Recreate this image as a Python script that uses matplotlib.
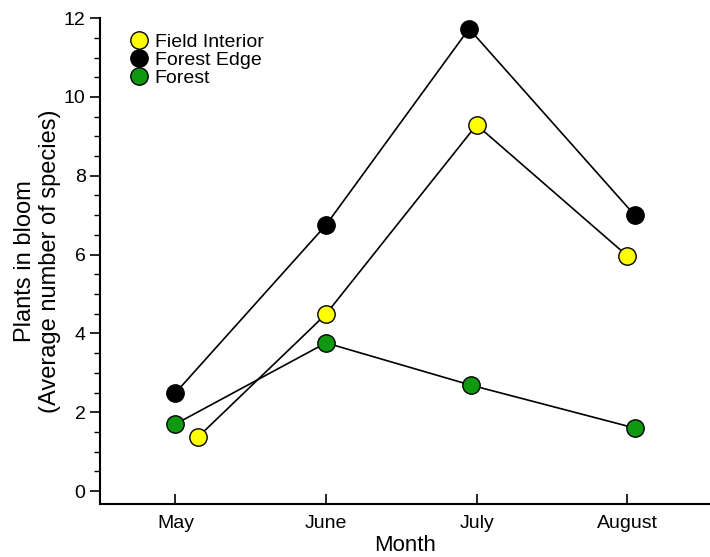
import numpy as np
import matplotlib.pyplot as plt
from matplotlib.lines import Line2D
from matplotlib.ticker import MultipleLocator

plt.rcParams['font.family'] = ['Liberation Sans', 'DejaVu Sans']

months = ['May', 'June', 'July', 'August']

# valores
field_interior = [1.37, 4.49, 9.29, 5.97]
forest_edge = [2.49, 6.75, 11.73, 7.0]
forest = [1.70, 3.76, 2.69, 1.60]

# pequeno deslocamento horizontal de cada ponto
field_dx = [0.15, 0.0, 0.0, 0.0]
edge_dx = [0.0, 0.0, -0.05, 0.05]
forest_dx = [0.0, 0.0, -0.04, 0.05]

fig = plt.figure(figsize=(7.1, 5.57), dpi=100)
ax = fig.add_axes([0.141, 0.095, 0.859, 0.8725])

x = np.arange(len(months))
series = [
    (field_interior, field_dx, '#ffff00', 'Field Interior'),
    (forest_edge, edge_dx, '#000000', 'Forest Edge'),
    (forest, forest_dx, '#109910', 'Forest'),
]

handles = []
for vals, dx, cor, nome in series:
    xs = x + np.array(dx)
    ax.plot(xs, vals, color='black', lw=1.2, zorder=2)
    ax.plot(xs, vals, linestyle='none', marker='o', ms=12.5,
            markerfacecolor=cor, markeredgecolor='black', mew=1.0, zorder=3)
    handles.append(Line2D([], [], linestyle='none', marker='o', ms=12.5,
                          markerfacecolor=cor, markeredgecolor='black', mew=1.0, label=nome))

ax.set_xlim(-0.5, 3.55)
ax.set_ylim(-0.33, 12)
ax.set_xticks(x)
ax.set_xticklabels(months, fontsize=14)
ax.set_yticks(np.arange(0, 13, 2))
ax.yaxis.set_minor_locator(MultipleLocator(0.5))
ax.tick_params(axis='y', labelsize=14, length=7, width=1.2, direction='out')
ax.tick_params(axis='y', which='minor', length=4, width=1.0)
ax.tick_params(axis='x', length=7, width=1.2, direction='in', pad=8)
ax.spines['top'].set_visible(False)
ax.spines['right'].set_visible(False)
ax.spines['left'].set_bounds(-0.33, 12)
ax.spines['left'].set_linewidth(1.5)
ax.spines['bottom'].set_linewidth(1.5)

ax.set_xlabel('Month', fontsize=16, labelpad=2)
ax.set_ylabel('Plants in bloom\n(Average number of species)', fontsize=17, labelpad=2)

ax.legend(handles=handles, loc='upper left', bbox_to_anchor=(0.035, 0.985), frameon=False,
          fontsize=14, handlelength=1.0, handletextpad=0.3, labelspacing=0.02,
          borderaxespad=0)

fig.savefig('out.png', dpi=100)
